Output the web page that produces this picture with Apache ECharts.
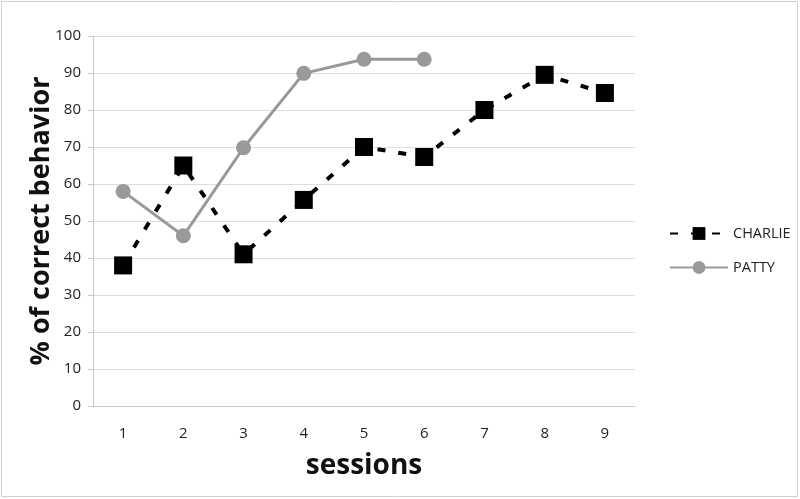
<!DOCTYPE html>
<html><head><meta charset="utf-8">
<script src="https://cdn.jsdelivr.net/npm/echarts@6/dist/echarts.min.js"></script>
<style>html,body{margin:0;padding:0;background:#fff}#c{width:800px;height:499px}</style>
</head><body><div id="c"></div>
<script>
const sessions = ['1','2','3','4','5','6','7','8','9'];
const charlie = [38, 65, 41, 55.7, 70, 67.3, 80, 89.5, 84.6];
const patty = [58, 46, 69.8, 89.9, 93.7, 93.7];
const yTicks = {min: 0, max: 100, interval: 10};
const font = '"Open Sans", "Liberation Sans", sans-serif';
const chart = echarts.init(document.getElementById('c'));
chart.setOption({
  animation: false,
  backgroundColor: '#fff',
  graphic: [{type: 'rect', shape: {x: 1.5, y: 1.5, width: 796, height: 495}, style: {fill: 'none', stroke: '#d0d0d0', lineWidth: 1}, silent: true}],
  grid: {left: 93, right: 165, top: 36, bottom: 93},
  legend: {
    orient: 'vertical', left: 664, top: 221, itemGap: 19, itemWidth: 58, itemHeight: 16,
    textStyle: {fontFamily: font, fontSize: 14.5, color: '#222'},
    data: ['CHARLIE', 'PATTY']
  },
  xAxis: {
    type: 'category', data: sessions, boundaryGap: true,
    name: 'sessions', nameLocation: 'middle', nameGap: 46, nameMoveOverlap: false,
    nameTextStyle: {fontFamily: font, fontSize: 28, fontWeight: 'bold', color: '#111'},
    axisLine: {lineStyle: {color: '#c8c8c8', width: 1}},
    axisTick: {show: false},
    axisLabel: {fontFamily: font, fontSize: 15, color: '#222', margin: 20}
  },
  yAxis: {
    type: 'value', min: yTicks.min, max: yTicks.max, interval: yTicks.interval,
    name: '% of correct behavior', nameLocation: 'middle', nameGap: 38, nameMoveOverlap: false,
    nameTextStyle: {fontFamily: font, fontSize: 27, fontWeight: 'bold', color: '#111'},
    axisLine: {show: true, lineStyle: {color: '#c8c8c8', width: 1}},
    axisTick: {show: true, length: 5, lineStyle: {color: '#c8c8c8'}},
    splitLine: {lineStyle: {color: '#dedede', width: 1}},
    axisLabel: {fontFamily: font, fontSize: 15, color: '#222', margin: 12}
  },
  series: [
    {
      name: 'CHARLIE', type: 'line', data: charlie,
      symbol: 'rect', symbolSize: 18,
      itemStyle: {color: '#000'},
      lineStyle: {color: '#000', width: 4, type: [8, 13]}
    },
    {
      name: 'PATTY', type: 'line', data: patty,
      symbol: 'circle', symbolSize: 15,
      itemStyle: {color: '#999'},
      lineStyle: {color: '#999', width: 3}
    }
  ]
});
</script></body></html>
